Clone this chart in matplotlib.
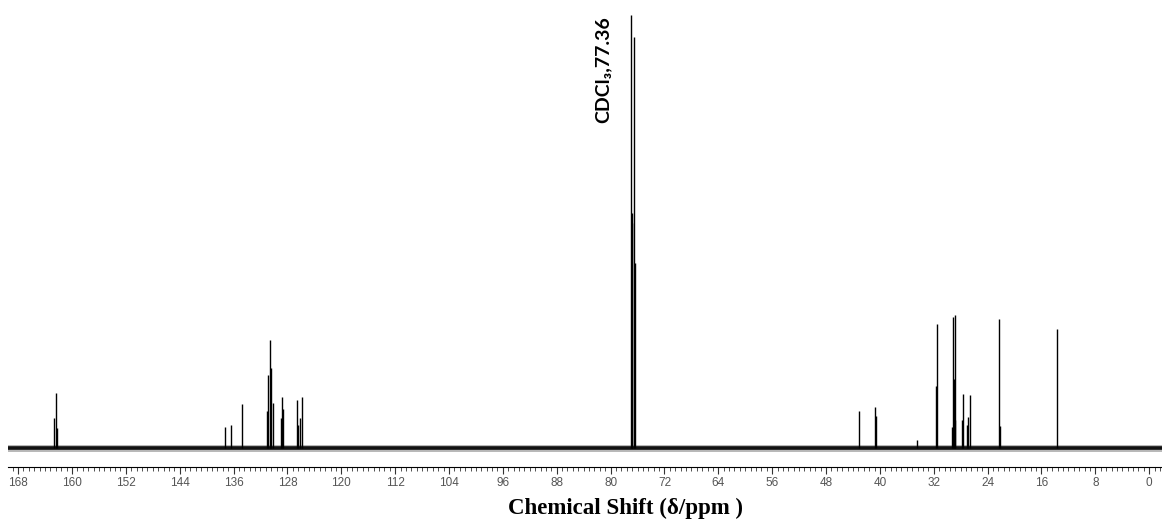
import matplotlib.pyplot as plt
from matplotlib.ticker import MultipleLocator

# peak positions (ppm) and heights (arbitrary units, baseline = 0)
cdcl3_ppm = [76.97, 76.80, 76.75, 76.52, 76.30]
cdcl3_int = [433, 235, 225, 411, 185]

cf_ppm = [162.60, 162.40, 162.25]
cf_int = [30, 55, 20]

arom_ppm = [137.30, 136.40, 134.80, 131.00, 130.87, 130.62, 130.47, 130.12,
            129.02, 128.87, 128.63, 126.64, 126.40, 126.15, 125.90]
arom_int = [21, 23, 44, 37, 73, 108, 80, 45,
            30, 51, 39, 48, 23, 30, 51]

aliph_ppm = [43.09, 40.71, 40.56, 34.47, 31.65, 31.50, 29.27, 29.12, 28.97,
             28.90, 28.83, 27.79, 27.64, 27.04, 26.89, 26.60, 22.29, 22.14, 13.67]
aliph_int = [37, 41, 32, 8, 62, 124, 21, 131, 69,
             133, 28, 28, 54, 23, 31, 53, 129, 22, 119]

major_ticks = list(range(168, -1, -8))
solvent_label = 'CDCl\u2083,77.36'

fig = plt.figure(figsize=(11.62, 5.22), dpi=100)
ax = fig.add_axes([8 / 1162, 55 / 522, 1154 / 1162, 457 / 522])

# baseline (noise band)
ax.axhline(0, color='black', lw=2.6, zorder=1)
ax.axhline(0, color='#333333', lw=5, alpha=0.35, zorder=1)

for ppm, h in [(cf_ppm, cf_int), (arom_ppm, arom_int),
               (aliph_ppm, aliph_int), (cdcl3_ppm, cdcl3_int)]:
    ax.vlines(ppm, 0, h, color='black', lw=1.0, zorder=2)

ax.set_xlim(169.5, -1.9)
ax.set_ylim(-19, 438)

for s in ['top', 'left', 'right']:
    ax.spines[s].set_visible(False)
ax.spines['bottom'].set_linewidth(0.8)
ax.set_yticks([])
ax.set_xticks(major_ticks)
ax.xaxis.set_minor_locator(MultipleLocator(0.8))
ax.tick_params(axis='x', which='major', length=5, width=0.8, pad=2,
               labelsize=8.5, colors='#333333')
ax.tick_params(axis='x', which='minor', length=3, width=0.6, colors='#333333')
for lab in ax.get_xticklabels():
    lab.set_family(['Liberation Sans', 'DejaVu Sans'])
    lab.set_color('#555555')

ax.text(81.2, 378, solvent_label, rotation=90, ha='center', va='center',
        fontsize=14, fontweight='bold', family=['Lato', 'DejaVu Sans'])

fig.text(625 / 1162, 1 - 508 / 522, 'Chemical Shift (\u03b4/ppm )',
         ha='center', va='center', fontsize=16.5, fontweight='bold',
         family=['Liberation Serif', 'DejaVu Serif'])

plt.savefig('out.png', dpi=100)
